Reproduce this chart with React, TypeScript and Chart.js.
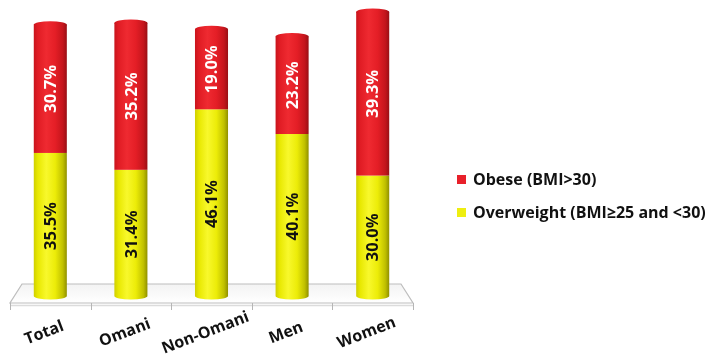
import { useEffect, useRef } from 'react';
import { Chart, registerables } from 'chart.js';

Chart.register(...registerables);

const categories = ['Total', 'Omani', 'Non-Omani', 'Men', 'Women'];
const overweight = [35.5, 31.4, 46.1, 40.1, 30.0];
const obese = [30.7, 35.2, 19.0, 23.2, 39.3];
const seriesLabels = ['Overweight (BMI≥25 and <30)', 'Obese (BMI>30)'];
const legendOrder = [1, 0];
const yMax = 70;

const COLORS = ['#eeee10', '#e8202a'];
const STOPS: [number, string][][] = [
  [
    [0, '#cfcf00'],
    [0.12, '#e8e800'],
    [0.38, '#f8f82c'],
    [0.65, '#ecec08'],
    [0.88, '#c0c000'],
    [1, '#909000'],
  ],
  [
    [0, '#c8141c'],
    [0.12, '#e01c24'],
    [0.38, '#ef2a31'],
    [0.65, '#e41e26'],
    [0.88, '#c4151c'],
    [1, '#981015'],
  ],
];
const LABEL_COLORS = ['#111111', '#ffffff'];
const FONT = '"Open Sans", "DejaVu Sans", sans-serif';

function grad(ctx: CanvasRenderingContext2D, x0: number, w: number, stops: [number, string][]) {
  const g = ctx.createLinearGradient(x0, 0, x0 + w, 0);
  stops.forEach(([p, c]) => g.addColorStop(p, c));
  return g;
}

const cylPlugin = {
  id: 'cylinders',
  beforeDatasetsDraw(chart: any) {
    const { ctx } = chart;
    const xs = chart.scales.x;
    const ys = chart.scales.y;
    const base = ys.getPixelForValue(0);
    const left = xs.left;
    const right = xs.right;
    const backY = base - 15;
    const frontY = base + 4;
    ctx.save();
    const fg = ctx.createLinearGradient(0, backY, 0, frontY);
    fg.addColorStop(0, '#f3f3f3');
    fg.addColorStop(1, '#ffffff');
    ctx.fillStyle = fg;
    ctx.beginPath();
    ctx.moveTo(left + 12, backY);
    ctx.lineTo(right - 12, backY);
    ctx.lineTo(right, frontY);
    ctx.lineTo(left, frontY);
    ctx.closePath();
    ctx.fill();
    ctx.strokeStyle = '#bdbdbd';
    ctx.lineWidth = 1.2;
    ctx.stroke();
    ctx.strokeStyle = '#dcdcdc';
    ctx.lineWidth = 1.5;
    ctx.beginPath();
    ctx.moveTo(left, frontY + 2.5);
    ctx.lineTo(right, frontY + 2.5);
    ctx.stroke();
    ctx.strokeStyle = '#b5b5b5';
    ctx.lineWidth = 1;
    const n = categories.length;
    const step = (right - left) / n;
    for (let i = 0; i <= n; i++) {
      const tx = Math.round(left + i * step) + 0.5;
      ctx.beginPath();
      ctx.moveTo(tx, frontY);
      ctx.lineTo(tx, frontY + 7);
      ctx.stroke();
    }
    ctx.restore();
  },
  afterDatasetsDraw(chart: any) {
    const { ctx } = chart;
    const xs = chart.scales.x;
    const ys = chart.scales.y;
    ctx.save();
    chart.data.datasets.forEach((ds: any, di: number) => {
      const meta = chart.getDatasetMeta(di);
      meta.data.forEach((el: any, i: number) => {
        const { x, y, base, width } = el.getProps(['x', 'y', 'base', 'width'], true);
        const x0 = x - width / 2;
        ctx.fillStyle = grad(ctx, x0, width, STOPS[di]);
        if (di === 0) {
          ctx.fillRect(x0, y, width, base - 3 - y);
          ctx.beginPath();
          ctx.ellipse(x, base - 3, width / 2, 3.5, 0, 0, Math.PI);
          ctx.fill();
        } else {
          ctx.fillRect(x0, y - 2, width, base - y + 2);
          ctx.beginPath();
          ctx.ellipse(x, y - 2, width / 2, 3.5, 0, 0, Math.PI * 2);
          ctx.fill();
        }
        const cy = di === 0 ? (y + base) / 2 : (y - 2 + base) / 2;
        ctx.save();
        ctx.translate(x, cy);
        ctx.rotate(-Math.PI / 2);
        ctx.font = `bold 16.5px ${FONT}`;
        ctx.fillStyle = LABEL_COLORS[di];
        ctx.textAlign = 'center';
        ctx.textBaseline = 'middle';
        ctx.fillText(ds.data[i].toFixed(1) + '%', 0, 1);
        ctx.restore();
      });
    });
    // category labels
    const bottom = ys.getPixelForValue(0);
    categories.forEach((c, i) => {
      const px = xs.getPixelForValue(i);
      ctx.save();
      ctx.translate(px - 6, bottom + 34);
      ctx.rotate((-21 * Math.PI) / 180);
      ctx.font = `bold 16px ${FONT}`;
      ctx.fillStyle = '#111111';
      ctx.textAlign = 'center';
      ctx.textBaseline = 'middle';
      ctx.fillText(xs.getLabelForValue(i), 0, 0);
      ctx.restore();
    });
    // legend
    const lx = chart.chartArea.right + 44;
    legendOrder.forEach((di, k) => {
      const cy = 180 + k * 33;
      ctx.fillStyle = COLORS[di];
      ctx.fillRect(lx, cy - 5, 9, 9);
      ctx.font = `bold 16px ${FONT}`;
      ctx.fillStyle = '#111111';
      ctx.textAlign = 'left';
      ctx.textBaseline = 'middle';
      ctx.fillText(chart.data.datasets[di].label, lx + 16, cy);
    });
    ctx.restore();
  },
};

export default function App() {
  const ref = useRef<HTMLCanvasElement>(null);
  useEffect(() => {
    if (!ref.current) return;
    const chart = new Chart(ref.current, {
      type: 'bar',
      data: {
        labels: categories,
        datasets: [
          {
            label: seriesLabels[0],
            data: overweight,
            backgroundColor: 'rgba(0,0,0,0)',
            borderWidth: 0,
            barPercentage: 0.41,
            categoryPercentage: 1,
          },
          {
            label: seriesLabels[1],
            data: obese,
            backgroundColor: 'rgba(0,0,0,0)',
            borderWidth: 0,
            barPercentage: 0.41,
            categoryPercentage: 1,
          },
        ],
      },
      options: {
        responsive: false,
        animation: false,
        layout: { padding: { left: 10, right: 296, top: 11, bottom: 63 } },
        plugins: { legend: { display: false }, tooltip: { enabled: false } },
        scales: {
          x: { stacked: true, display: false },
          y: { stacked: true, display: false, min: 0, max: yMax },
        },
      },
      plugins: [cylPlugin],
    });
    return () => chart.destroy();
  }, []);
  return (
    <div style={{ position: 'absolute', left: 0, top: 0, width: 709, height: 362, background: '#fff' }}>
      <canvas ref={ref} width={709} height={362} />
    </div>
  );
}
